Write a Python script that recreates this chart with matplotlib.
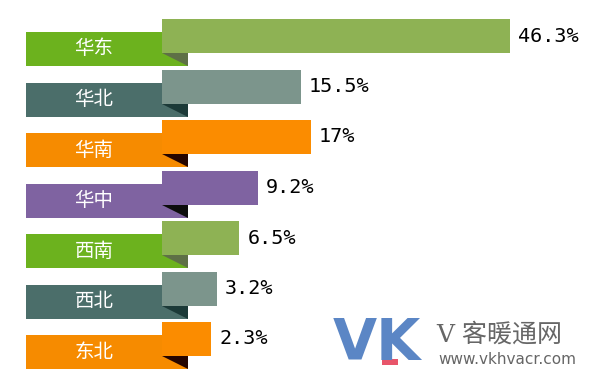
import matplotlib
matplotlib.use("Agg")
import matplotlib.pyplot as plt
from matplotlib.patches import Polygon, Rectangle

plt.rcParams['font.family'] = ['Noto Sans CJK SC', 'DejaVu Sans']

# data
regions = ['华东', '华北', '华南', '华中', '西南', '西北', '东北']
shares = [46.3, 15.5, 17, 9.2, 6.5, 3.2, 2.3]
tab_colors = ['#6cb21e', '#4b6e6a', '#f68b00', '#7f63a1', '#6cb21e', '#4b6e6a', '#f68b00']
bar_colors = ['#8eb254', '#7c958c', '#fb8c00', '#7f63a1', '#8eb254', '#7c958c', '#fb8c00']
fold_colors = ['#5e7046', '#1c3a38', '#250500', '#0d0d0d', '#5e7046', '#1c3a38', '#250500']

# layout (x in value units, y in pixels from top)
bar_start = -4.9
tab_left, tab_right = -24.9, -1.1
row_gap = 50.5
tab_top0, tab_h = 32, 34
bar_shift = 13

fig = plt.figure(figsize=(6, 3.9), dpi=100)
ax = fig.add_axes([0, 0, 1, 1])
ax.set_xlim(-28.7, 59.5)
ax.set_ylim(390, 0)
ax.axis('off')

for i, (name, v) in enumerate(zip(regions, shares)):
    t_top = tab_top0 + i * row_gap
    t_bot = t_top + tab_h
    b_top = t_top - bar_shift
    b_bot = b_top + tab_h
    ax.add_patch(Rectangle((tab_left, t_top), tab_right - tab_left, tab_h,
                           color=tab_colors[i], lw=0))
    ax.add_patch(Polygon([(bar_start, b_bot), (tab_right, b_bot), (tab_right, t_bot)],
                         closed=True, color=fold_colors[i], lw=0))
    ax.barh(b_top + tab_h / 2, v - bar_start, left=bar_start, height=tab_h,
            color=bar_colors[i], lw=0)
    ax.text((tab_left + bar_start) / 2, (t_top + t_bot) / 2, name, color='white',
            fontsize=14, ha='center', va='center')
    ax.text(v + 1.2, b_top + tab_h / 2, f"{v:g}%", family='DejaVu Sans Mono',
            fontsize=14.5, ha='left', va='center', color='black')

# watermark
ax.text(20.2, 345, 'VK', fontsize=41, fontweight='bold', color='#5b86c5',
        ha='left', va='center', family='DejaVu Sans')
ax.add_patch(Rectangle((27.5, 359), 2.3, 6, color='#e8556a', lw=0))
ax.text(35.5, 335, 'V 客暖通网', fontsize=18, color='#666666', ha='left', va='center',
        family=['DejaVu Serif', 'Noto Sans CJK SC'])
ax.text(35.8, 360, 'www.vkhvacr.com', fontsize=11, color='#666666', ha='left', va='center',
        family='DejaVu Sans')

fig.savefig('out.png', dpi=100)
